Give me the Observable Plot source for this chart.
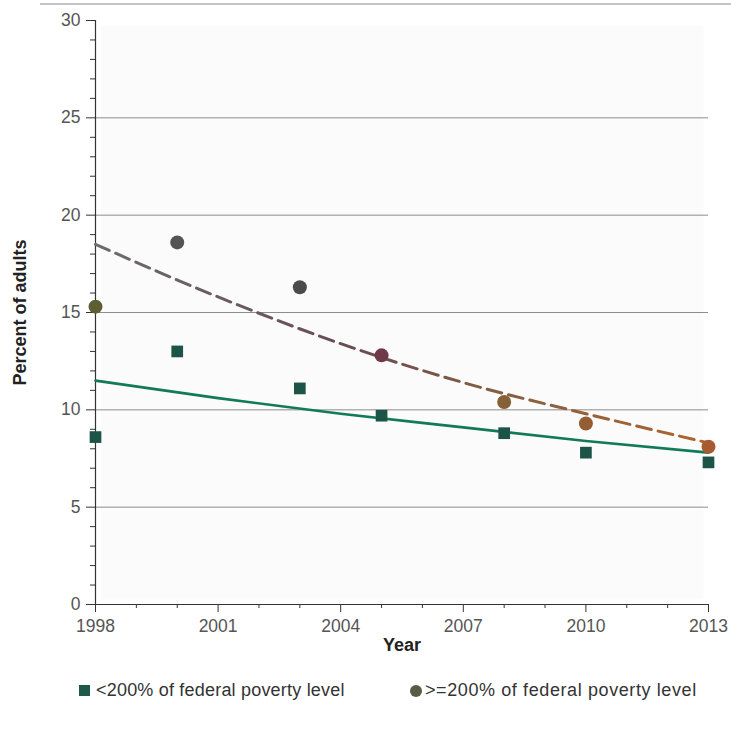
<!DOCTYPE html>
<html>
<head>
<meta charset="utf-8">
<script src="https://cdn.jsdelivr.net/npm/d3@7"></script>
<script src="https://cdn.jsdelivr.net/npm/@observablehq/plot@0.6"></script>
<style>
  html, body { margin: 0; padding: 0; background: #fff; }
  body { width: 731px; height: 729px; position: relative; overflow: hidden; font-family: "Liberation Sans", Arial, sans-serif; }
  #topline { position: absolute; left: 40px; right: 0; top: 3px; height: 2px; background: #c4c4c4; }
  #chart { position: absolute; left: 0; top: 0; }
  .legend { position: absolute; top: 680px; font-size: 18px; letter-spacing: 0.2px; color: #333; display: flex; align-items: center; white-space: nowrap; }
  .sw { display: inline-block; width: 11px; height: 11px; margin-right: 6px; }
</style>
</head>
<body>
<div id="topline"></div>
<div id="chart"></div>
<div class="legend" style="left:79px"><span class="sw" style="background:#1d5a4a"></span><span id="lg1"></span></div>
<div class="legend" style="left:410px;letter-spacing:0.6px"><span class="sw" style="background:#5a5a48;border-radius:50%;width:12px;height:12px;margin-right:3px"></span><span id="lg2"></span></div>
<script>
// ---- data ----
const years = [1998, 2000, 2003, 2005, 2008, 2010, 2013];
const below200 = [8.6, 13.0, 11.1, 9.7, 8.8, 7.8, 7.3];
const above200 = [15.3, 18.6, 16.3, 12.8, 10.4, 9.3, 8.1];
const trendYears = [1998, 2001, 2004, 2007, 2010, 2013];
const trendBelow = [11.5, 10.6, 9.8, 9.1, 8.4, 7.8];
const trendAbove = [18.5, 15.8, 13.4, 11.4, 9.8, 8.3];
const xTicks = [1998, 2001, 2004, 2007, 2010, 2013];
const xMinorTicks = [1999, 2000, 2002, 2003, 2005, 2006, 2008, 2009, 2011, 2012];
const yTicks = [0, 5, 10, 15, 20, 25, 30];
const yMinorTicks = [1, 2, 3, 4, 6, 7, 8, 9, 11, 12, 13, 14, 16, 17, 18, 19, 21, 22, 23, 24, 26, 27, 28, 29];
const gridValues = [5, 10, 15, 20, 25];
const seriesNames = ["<200% of federal poverty level", ">=200% of federal poverty level"];
const xLabel = "Year";
const yLabel = "Percent of adults";

document.getElementById("lg1").textContent = seriesNames[0];
document.getElementById("lg2").textContent = seriesNames[1];

const pts1 = years.map((y, i) => ({year: y, value: below200[i]}));
const pts2 = years.map((y, i) => ({year: y, value: above200[i]}));
const tr1 = trendYears.map((y, i) => ({year: y, value: trendBelow[i]}));
const tr2 = trendYears.map((y, i) => ({year: y, value: trendAbove[i]}));

const circleColor = d3.scaleLinear()
  .domain([1998, 2000, 2003, 2005, 2008, 2013])
  .range(["#5e5e34", "#545454", "#4b4b4b", "#6e3a4a", "#866036", "#a85a30"])
  .clamp(true);

const gradientDefs = () => {
  const defs = d3.create("svg:defs");
  const g = defs.append("linearGradient").attr("id", "dashgrad").attr("x1", "0").attr("x2", "1").attr("y1", "0").attr("y2", "0");
  g.append("stop").attr("offset", "0").attr("stop-color", "#6c6c6c");
  g.append("stop").attr("offset", "0.42").attr("stop-color", "#684c50");
  g.append("stop").attr("offset", "0.7").attr("stop-color", "#8a6040");
  g.append("stop").attr("offset", "1").attr("stop-color", "#b0642e");
  return defs.node();
};

const chart = Plot.plot({
  width: 731,
  height: 660,
  marginTop: 20,
  marginBottom: 56,
  marginLeft: 95,
  marginRight: 23,
  style: {fontFamily: "'Liberation Sans', Arial, sans-serif", color: "#555", background: "transparent"},
  x: {type: "linear", domain: [1998, 2013]},
  y: {domain: [0, 30]},
  marks: [
    gradientDefs,
    Plot.frame({fill: "#fbfbfb", stroke: null, inset: 5}),
    Plot.gridY(gridValues, {stroke: "#8c8c8c", strokeOpacity: 1, strokeWidth: 1}),
    Plot.axisY({ticks: yTicks, tickSize: 9, tickPadding: 6, tickFormat: "d", label: null, stroke: "#333", fill: "#555"}),
    Plot.axisY({ticks: yMinorTicks, tickSize: 5, tickFormat: () => "", label: null, stroke: "#333"}),
    Plot.axisX({ticks: xTicks, tickSize: 8, tickPadding: 7, tickFormat: "d", label: null, stroke: "#333", fill: "#555"}),
    Plot.axisX({ticks: xMinorTicks, tickSize: 4, tickFormat: () => "", label: null, stroke: "#333"}),
    Plot.ruleX([1998], {stroke: "#333", strokeWidth: 1.2}),
    Plot.ruleY([0], {stroke: "#333", strokeWidth: 1.2}),
    Plot.line(tr1, {x: "year", y: "value", curve: "monotone-x", stroke: "#127a58", strokeWidth: 2.6}),
    Plot.line(tr2, {x: "year", y: "value", curve: "monotone-x", stroke: "url(#dashgrad)", strokeWidth: 3, strokeDasharray: "15,7"}),
    Plot.dot(pts1, {x: "year", y: "value", symbol: "square", r: 6.6, fill: "#1d5448", stroke: "none"}),
    Plot.dot(pts2, {x: "year", y: "value", r: 7, fill: d => circleColor(d.year), stroke: "none"}),
    Plot.text([yLabel], {frameAnchor: "left", textAnchor: "middle", rotate: -90, dx: -75, fontWeight: "bold", fontSize: 18, fill: "#222"}),
    Plot.text([xLabel], {frameAnchor: "bottom", dy: 46, fontWeight: "bold", fontSize: 18, letterSpacing: 1, fill: "#222"})
  ]
});
d3.select(chart).selectAll("text")
  .filter(function() { return /^\d+$/.test(this.textContent.trim()); })
  .style("font-size", "17.5px");
document.getElementById("chart").append(chart);
</script>
</body>
</html>
